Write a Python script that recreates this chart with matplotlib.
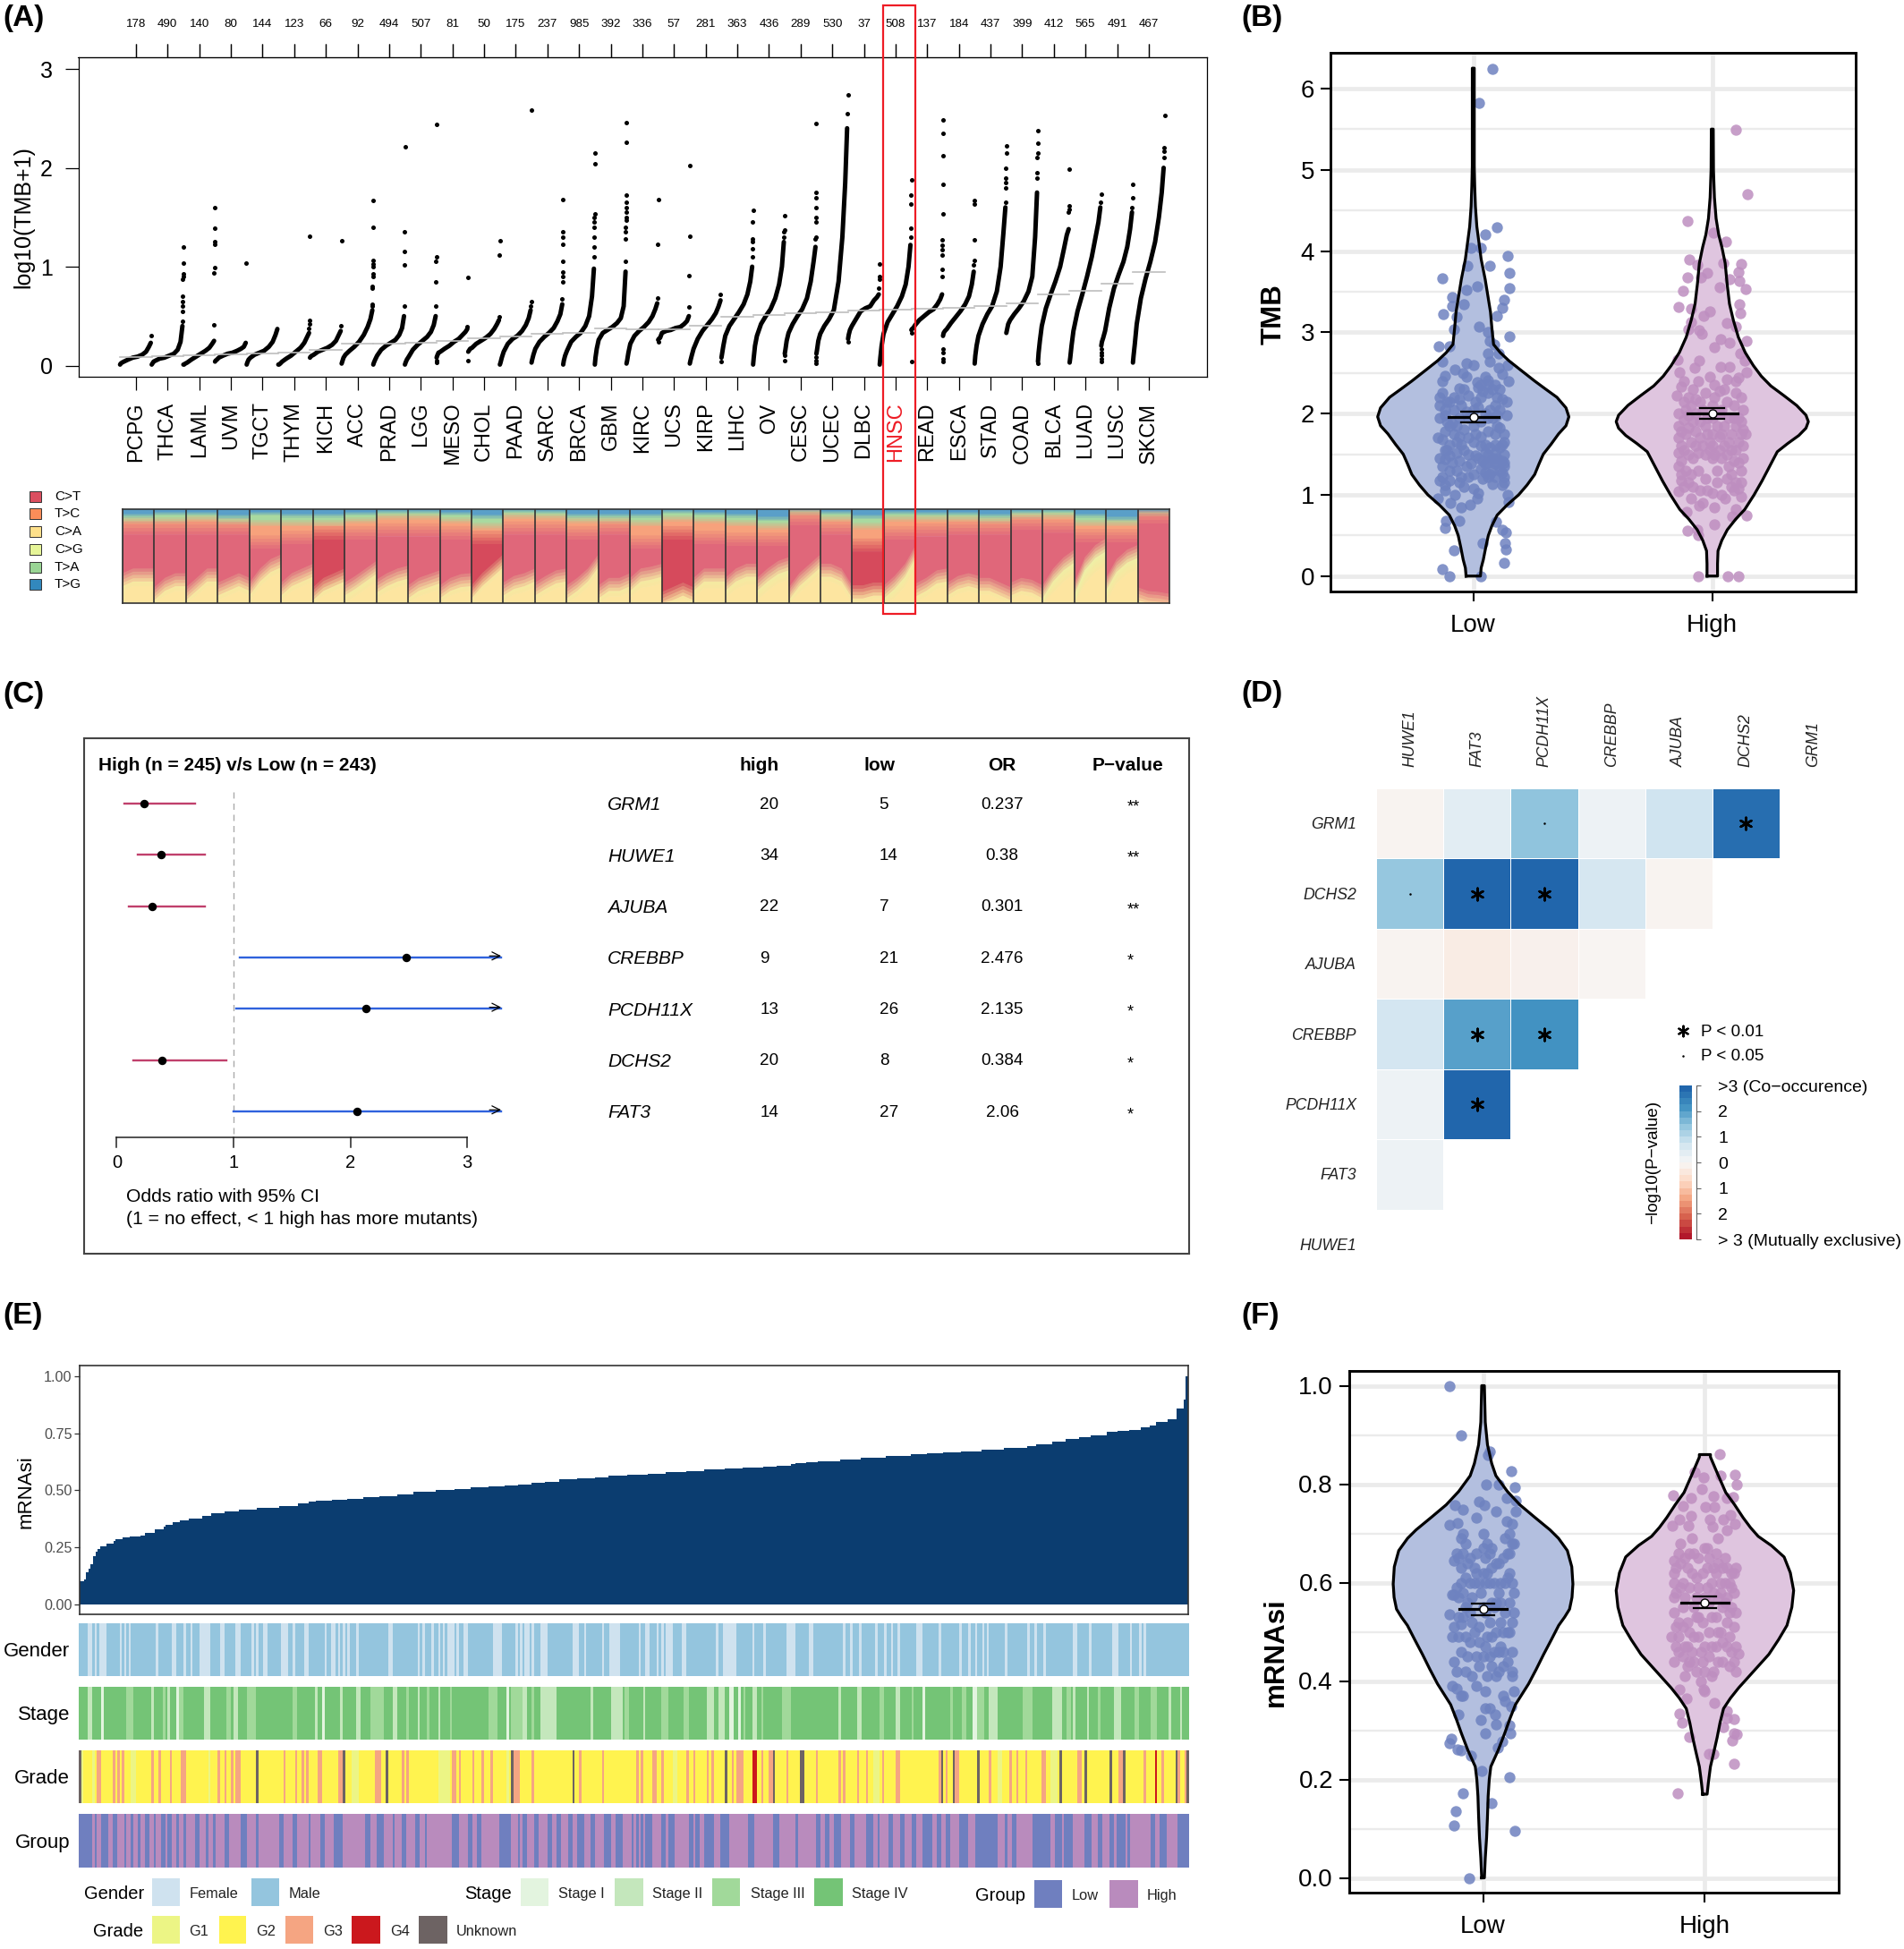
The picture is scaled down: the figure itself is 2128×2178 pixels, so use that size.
import numpy as np
import matplotlib
matplotlib.use("Agg")
import matplotlib.pyplot as plt
from matplotlib.colors import ListedColormap, LinearSegmentedColormap
from matplotlib.patches import Rectangle

plt.rcParams['font.family'] = ['Liberation Sans', 'DejaVu Sans']

W, H = 2128, 2178

# ---- panel A data ----
cancers = ['PCPG','THCA','LAML','UVM','TGCT','THYM','KICH','ACC','PRAD','LGG','MESO','CHOL','PAAD','SARC','BRCA','GBM','KIRC',
           'UCS','KIRP','LIHC','OV','CESC','UCEC','DLBC','HNSC','READ','ESCA','STAD','COAD','BLCA','LUAD','LUSC','SKCM']
cancer_n = [178,490,140,80,144,123,66,92,494,507,81,50,175,237,985,392,336,57,281,363,436,289,530,37,508,137,184,437,399,412,565,491,467]
tmb_median = [.09,.095,.105,.115,.125,.135,.155,.22,.225,.235,.245,.28,.29,.32,.33,.372,.364,.364,.404,.497,.513,.534,.538,.554,.562,.574,.586,.606,.627,.72,.76,.83,.946]
# sorted TMB read at fixed fractions of each cancer's width
tmb_frac = [0,.02,.06,.12,.25,.4,.55,.7,.82,.91,.97]
tmb_curves = [
    [.01,.02,.03,.04,.06,.08,.09,.11,.14,.19,.23],
    [.01,.02,.04,.05,.07,.08,.10,.12,.16,.24,.40],
    [.01,.01,.02,.03,.06,.09,.12,.15,.18,.22,.25],
    [.04,.05,.06,.08,.10,.12,.13,.15,.17,.19,.23],
    [.01,.03,.06,.08,.11,.13,.15,.19,.24,.31,.37],
    [.01,.01,.02,.04,.07,.10,.14,.18,.23,.29,.33],
    [.08,.09,.10,.11,.14,.16,.18,.21,.25,.31,.35],
    [.02,.04,.08,.11,.15,.19,.24,.31,.39,.47,.56],
    [.01,.03,.06,.10,.16,.20,.23,.26,.31,.38,.50],
    [.01,.03,.06,.09,.16,.21,.25,.29,.34,.41,.50],
    [.08,.10,.13,.14,.17,.20,.24,.27,.31,.34,.37],
    [.14,.15,.17,.18,.22,.25,.28,.32,.37,.42,.46],
    [.01,.03,.08,.14,.22,.27,.30,.35,.41,.48,.56],
    [.03,.06,.11,.17,.24,.29,.33,.38,.45,.52,.62],
    [.01,.05,.10,.15,.24,.29,.33,.40,.50,.70,.98],
    [.01,.08,.17,.26,.33,.36,.39,.43,.48,.60,.95],
    [.02,.05,.13,.22,.30,.35,.39,.44,.50,.57,.63],
    [.26,.27,.28,.33,.35,.36,.38,.39,.42,.45,.50],
    [.02,.05,.10,.17,.27,.35,.41,.47,.53,.60,.66],
    [.08,.12,.20,.30,.40,.47,.54,.62,.72,.85,1.0],
    [.01,.08,.20,.30,.42,.50,.57,.68,.82,1.0,1.25],
    [.12,.16,.25,.33,.42,.50,.57,.68,.85,1.05,1.2],
    [.12,.16,.25,.32,.40,.47,.56,.85,1.3,1.85,2.4],
    [.27,.31,.36,.40,.47,.55,.58,.60,.66,.69,.72],
    [.01,.08,.20,.32,.44,.52,.60,.70,.82,1.0,1.22],
    [.36,.37,.38,.41,.46,.50,.54,.57,.62,.67,.72],
    [.30,.33,.35,.37,.43,.49,.55,.62,.70,.82,.95],
    [.02,.10,.20,.30,.42,.52,.60,.75,1.0,1.35,1.6],
    [.33,.36,.42,.46,.52,.58,.65,.75,.90,1.3,1.75],
    [.04,.13,.25,.40,.58,.72,.85,1.0,1.18,1.32,1.38],
    [.03,.08,.20,.35,.55,.72,.90,1.1,1.3,1.45,1.6],
    [.20,.24,.28,.35,.58,.78,.92,1.05,1.2,1.38,1.55],
    [.03,.10,.22,.42,.68,.88,1.05,1.25,1.5,1.75,2.0],
]
tmb_tops = [
    [.30], [.45,.55,.6,.65,.7,.87,.9,.93,1.04,1.2], [.41,.94,.99,1.23,1.25,1.39,1.6], [1.04], [],
    [.38,.42,.46,1.31], [.4,1.26], [.6,.62,.78,.8,.9,.93,1.0,1.03,1.06,1.4,1.67], [.6,1.02,1.15,1.35,2.21],
    [.6,.85,1.05,1.1,2.44], [.39,.89], [.49,1.12,1.26], [.6,.65,2.58], [.67,.85,.9,.95,1.05,1.23,1.3,1.35,1.68],
    [1.1,1.2,1.3,1.4,1.45,1.5,1.53,2.04,2.15], [1.05,1.28,1.35,1.4,1.47,1.5,1.55,1.6,1.65,1.72,2.26,2.46],
    [.68,1.23,1.68], [.59,.91,1.31,2.02], [.72], [1.1,1.18,1.25,1.28,1.45,1.57], [1.3,1.35,1.37,1.52],
    [1.28,1.3,1.45,1.5,1.6,1.7,1.75,2.45], [2.55,2.74], [.78,.87,.9,1.03], [1.3,1.39,1.63,1.72,1.88],
    [.9,.97,1.12,1.17,1.22,1.27,1.53,1.83,2.12,2.35,2.48], [1.02,1.06,1.27,1.63,1.67], [1.65,1.8,1.85,1.9,2.0,2.15,2.22],
    [1.9,1.95,2.1,2.15,2.25,2.38], [1.55,1.58,1.62,1.99], [1.65,1.73], [1.6,1.7,1.83], [2.1,2.17,2.2,2.53],
]
# stray low samples sitting under the start of a curve
tmb_lows = {'MESO':[.03,.05], 'CHOL':[.05], 'LIHC':[.04], 'CESC':[.05,.1], 'UCEC':[.02,.05,.09], 'DLBC':[.24],
            'READ':[.04,.33], 'ESCA':[.04,.07,.13,.17], 'LUSC':[.04,.07,.1,.13,.17], 'UCS':[.24], 'BLCA':[.02]}

# mutation spectrum: top of the yellow part at four positions in each column, then single layer tops
spec_yellow = [[.25,.3,.3,.3],[.1,.2,.25,.25],[.1,.2,.3,.3],[.15,.2,.25,.2],[.15,.3,.4,.45],[.15,.25,.3,.35],[.1,.2,.25,.3],[.15,.22,.3,.38],
               [.18,.25,.3,.33],[.12,.2,.24,.28],[.12,.2,.24,.25],[.12,.25,.35,.45],[.15,.22,.25,.3],[.15,.22,.28,.3],[.12,.2,.3,.45],[.12,.2,.2,.25],
               [.2,.3,.32,.35],[.05,.1,.15,.1],[.2,.3,.3,.3],[.2,.3,.35,.35],[.2,.3,.38,.42],[.1,.25,.35,.45],[.35,.35,.3,.12],[.12,.12,.15,.15],
               [.12,.22,.35,.55],[.14,.2,.28,.3],[.15,.22,.25,.22],[.2,.2,.15,.1],[.15,.2,.18,.12],[.12,.3,.42,.5],[.15,.42,.55,.62],[.2,.4,.5,.55],[.1,.06,.05,.03]]
spec_cg = [.05,.05,.05,.05,.05,.05,.05,.08,.06,.06,.05,.04,.06,.05,.06,.06,.07,.03,.07,.08,.1,.07,.05,.03,.1,.06,.05,.04,.04,.12,.15,.12,.01]
spec_red = [.8,.8,.8,.8,.65,.7,.75,.75,.78,.78,.75,.7,.8,.8,.75,.8,.65,.75,.7,.68,.68,.9,.8,.62,.75,.78,.8,.8,.85,.82,.72,.72,.92]
spec_orange = [.88,.88,.9,.87,.85,.85,.85,.88,.92,.92,.88,.82,.93,.92,.88,.88,.85,.9,.88,.85,.82,.97,.9,.82,.9,.9,.9,.88,.93,.93,.85,.85,.96]
spec_green = [.93,.95,.95,.92,.95,.93,.93,.95,.97,.97,.95,.92,.98,.97,.93,.93,.93,.97,.95,.93,.9,.99,.96,.92,.96,.95,.95,.93,.97,.98,.93,.9,.98]
spec_names = ['C>T','T>C','C>A','C>G','T>A','T>G']
spec_colors = ['#DB4F60','#FC8D59','#FEE08B','#E6F598','#99D594','#3288BD']
spec_deep_red = ['KICH','CHOL','UCS','DLBC']

# ---- panel B data ----
b_low_y = [0,.1,.2,.35,.5,.62,.75,.87,1.0,1.12,1.25,1.38,1.5,1.62,1.75,1.85,1.96,2.07,2.2,2.3,2.4,2.52,2.65,2.75,2.85,3.05,3.25,3.45,3.65,3.9,4.1,4.3,4.55,4.8,5.05,5.8,6.25]
b_low_w = [.03,.033,.042,.052,.063,.078,.10,.14,.19,.225,.257,.275,.293,.325,.357,.388,.40,.388,.35,.303,.257,.205,.149,.113,.085,.078,.072,.061,.05,.033,.024,.015,.009,.006,.004,.004,.004]
b_high_y = [0,.15,.31,.44,.57,.7,.82,1.0,1.17,1.35,1.53,1.63,1.73,1.82,1.9,1.98,2.1,2.22,2.34,2.46,2.59,2.75,2.94,3.15,3.35,3.6,3.85,4.05,4.2,4.4,4.66,5.0,5.5]
b_high_w = [.022,.022,.024,.04,.063,.098,.136,.175,.208,.24,.272,.315,.362,.392,.402,.392,.353,.30,.245,.205,.172,.138,.109,.088,.072,.062,.054,.04,.027,.016,.009,.005,.004]
b_low_pts = [(.08,6.24),(.025,5.82),(.10,4.29),(.05,4.2),(-.01,4.04),(.03,4.04),(.145,3.94),(.15,3.73),(.07,3.82),(-.025,3.82),(-.13,3.66),(.15,3.54),(.016,3.56),(-.03,3.52),
    (-.087,3.43),(.127,3.4),(-.04,3.34),(-.087,3.32),(.12,3.3),(.10,3.2),(-.125,3.22),(-.07,3.19),(.025,3.07),(-.08,3.04),(.06,3.0),(.15,2.95),(.07,2.89),(-.143,2.83),(-.10,2.83),(.087,2.85),
    (.06,2.74),(.105,2.74),(-.13,2.64),(.07,2.64),(-.03,2.62),(0,2.6),(.145,2.6),(-.076,2.54),(.105,2.56),(.12,2.49),(-.12,2.46),(-.043,2.5),(.147,2.4),(-.13,2.4),(.06,2.41),(.015,2.39),(-.06,2.31),
    (.147,.91),(.145,1.0),(-.15,.95),(-.12,1.05),(-.076,1.0),(-.094,.9),(-.05,.85),(-.012,.88),(.015,.95),(-.06,.68),(-.116,.68),(-.12,.59),(.096,.67),(.12,.57),(.138,.54),(.132,.41),(.138,.33),(.04,.4),(-.08,.32),(.127,.16),(-.13,.09),(-.1,0),(.03,0),
    (-.14,1.18),(-.13,1.22),(-.14,1.45),(-.12,1.44),(-.15,1.7),(-.13,1.68),(-.14,1.95),(-.12,1.98),(-.14,2.1),(-.14,2.2),(-.13,2.25),(-.11,2.15),(-.1,1.3),(-.09,1.4),(-.1,1.62),(-.08,1.75),(-.09,1.88),(-.08,2.05),(-.1,2.14),(-.07,1.52),(-.06,1.15),(-.05,1.22),(-.04,1.1),(-.03,1.35),(-.05,1.62),(-.04,1.8),(-.06,1.95),(-.05,2.1),(-.04,2.3),(-.03,2.45),(-.02,1.5),(-.01,1.38),(0,1.25),(0,1.08),(.01,1.75),(0,1.85),(.01,2.15),(.02,2.32),(.03,2.2),(.03,1.9),(.03,1.6),(.04,1.42),(.05,1.28),(.05,1.38),(.06,1.5),(.06,1.78),(.05,2.0),(.06,2.25),(.06,2.37),(.08,1.45),(.08,1.3),(.08,1.13),(.09,1.52),(.09,1.75),(.08,1.95),(.09,2.1),(.1,2.2),(.1,1.4),(.12,1.27),(.13,1.4),(.13,1.15),(.13,1.22),(.13,1.5),(.13,1.65),(.13,1.75),(.14,1.98),(.14,2.15),(.12,2.18),(.11,1.82),(.11,2.3),
    (-.12,1.12),(-.1,1.18),(-.07,1.3),(-.12,1.55),(-.1,1.48),(-.06,1.42),(-.12,1.78),(-.1,1.85),(-.06,1.72),(-.12,2.05),(-.08,2.2),(-.06,2.18),(-.03,2.02),(-.02,1.7),(-.02,1.22),(.01,1.48),(.02,1.02),(.03,1.32),(.03,1.72),(.02,2.08),(.04,1.2),(.05,1.52),(.05,1.62),(.06,1.95),(.06,1.4),(.07,1.25),(.07,1.58),(.07,2.05),(.08,2.3),(.09,1.38),(.09,1.22),(.1,1.45),(.1,1.85),(.11,1.58),(.11,1.3),(.12,1.42),(.12,1.62),(.12,1.12),(.11,2.05),(.1,1.98),(-.11,1.9),(-.11,1.55),(-.07,1.65),(-.07,1.85),(-.02,1.95),(-.02,2.22),(0,2.05),(.04,2.28),(.06,1.22),(.13,1.35),(-.13,1.35),(-.04,1.55),(0,1.65),(.02,1.45),(.09,1.62),(.03,2.35),(.09,2.35),(.05,2.45)]
b_high_pts = [(.098,5.49),(.147,4.7),(-.103,4.37),(.004,4.23),(.058,4.12),(-.096,3.89),(-.063,3.83),(.045,3.85),(.12,3.84),(-.022,3.73),(-.103,3.68),(-.049,3.68),(.109,3.74),(.072,3.65),(.114,3.63),(.03,3.55),(-.121,3.51),(.14,3.53),(-.14,3.31),(-.089,3.29),(.112,3.35),(.116,3.23),(-.009,3.26),(-.038,3.2),(-.089,3.12),(.06,3.11),(.1,3.07),(-.1,3.04),(-.054,3.02),(-.045,2.98),(.145,2.89),(.036,2.92),(.072,2.87),(.009,2.82),(.118,2.74),(-.145,2.66),(-.054,2.65),(.136,2.65),(.145,2.51),(-.136,2.51),(-.072,2.56),(.036,2.57),(.072,2.57),(.109,2.44),(-.009,2.45),
    (.145,.75),(.085,.74),(.1,.82),(.009,.84),(-.054,.87),(-.109,.79),(.009,.64),(-.103,.56),(-.063,.57),(-.06,.5),(.054,.96),(-.06,0),(.063,0),(.11,0),
    (-.14,1.04),(-.13,1.17),(-.12,1.1),(-.14,1.35),(-.14,1.52),(-.14,1.7),(-.14,1.85),(-.14,2.0),(-.15,2.22),(-.13,2.33),(-.12,2.4),(-.11,2.05),(-.11,1.75),(-.12,1.55),(-.11,1.3),(-.09,.95),(-.08,1.1),(-.09,1.25),(-.08,1.45),(-.09,1.65),(-.08,1.9),(-.09,2.1),(-.08,2.3),(-.06,2.4),(-.06,1.52),(-.05,1.7),(-.06,1.3),(-.05,1.05),(-.04,.9),(-.03,1.2),(-.03,1.5),(-.03,1.85),(-.04,2.05),(-.03,2.25),(-.01,1.55),(0,1.45),(-.01,1.65),(0,1.95),(.01,2.2),(.01,2.35),(.02,1.3),(.02,1.15),(.03,1.55),(.04,1.45),(.04,1.75),(.04,2.05),(.05,2.3),(.06,1.5),(.06,1.2),(.07,1.35),(.08,1.1),(.08,1.25),(.08,1.55),(.08,1.75),(.09,1.95),(.09,2.1),(.1,2.25),(.1,2.4),(.11,1.4),(.12,1.15),(.12,1.3),(.13,1.45),(.13,1.6),(.13,1.8),(.14,1.75),(.12,1.9),(.13,2.05),(.12,.98),(.11,1.08),
    (-.13,1.6),(-.13,1.78),(-.12,1.92),(-.12,2.15),(-.13,1.42),(-.1,1.5),(-.1,1.82),(-.1,1.98),(-.1,2.2),(-.07,1.6),(-.07,1.78),(-.07,2.0),(-.07,2.18),(-.05,1.9),(-.05,2.15),(-.04,1.6),(-.02,1.75),(-.02,1.95),(0,1.75),(0,1.6),(0,2.1),(.01,1.5),(.02,1.85),(.03,2.0),(.03,1.72),(.05,1.6),(.05,1.85),(.06,2.15),(.07,1.95),(.07,1.65),(.09,1.42),(.1,1.55),(.1,1.85),(.11,1.65),(.12,1.75),(.12,2.2),(.11,1.95),(.1,1.15),(.09,1.05),(.04,1.0),(0,1.02),(-.02,1.05),(-.1,1.15),(-.13,1.25),(.06,2.42),(.03,2.28)]

# ---- panel C data ----
forest_genes = ['GRM1','HUWE1','AJUBA','CREBBP','PCDH11X','DCHS2','FAT3']
forest_high = [20,34,22,9,13,20,14]
forest_low = [5,14,7,21,26,8,27]
forest_or = [0.237,0.38,0.301,2.476,2.135,0.384,2.06]
forest_ci_lo = [.068,.18,.10,1.056,1.025,.14,1.0]
forest_ci_hi = [.67,.758,.755,3.29,3.29,.936,3.29]
forest_p = ['**','**','**','*','*','*','*']

# ---- panel D data ----
d_cols = ['HUWE1','FAT3','PCDH11X','CREBBP','AJUBA','DCHS2','GRM1']
d_rows = ['GRM1','DCHS2','AJUBA','CREBBP','PCDH11X','FAT3','HUWE1']
nan = np.nan
d_vals = [[-.1,.4,1.5,.2,.75,2.85,nan],
          [1.45,3.0,3.0,.65,-.1,nan,nan],
          [-.1,-.3,-.17,-.08,nan,nan,nan],
          [.7,2.05,2.25,nan,nan,nan,nan],
          [.2,3.0,nan,nan,nan,nan,nan],
          [.2,nan,nan,nan,nan,nan,nan],
          [nan,nan,nan,nan,nan,nan,nan]]
d_star = [(0,5),(1,1),(1,2),(3,1),(3,2),(4,1)]
d_dot = [(0,2),(1,0)]

# ---- panel E data ----
# rank of the first sample at each reading, and the mRNAsi read there
e_rank = [0,2,3,4,5,6,7,8,9,12,15,16,19,22,27,29,33,37,38,41,44,48,54,58,64,70,78,88,96,101,
          104,111,118,125,132,140,147,157,165,172,180,187,193,199,205,211,219,227,233,241,
          250,258,267,275,284,292,301,307,313,315,320,325,335,344,355,366,373,380,388,397,
          407,417,421,428,434,440,445,452,457,462,467,471,474,479,483,486,487]
e_value = [.10,.11,.14,.157,.175,.21,.23,.243,.255,.266,.279,.285,.292,.297,.299,.314,.33,.34,.35,.358,.369,.376,.387,.40,.408,.416,.423,.429,.442,.449,
           .456,.459,.463,.468,.474,.483,.493,.502,.507,.513,.517,.522,.526,.531,.538,.547,.553,.558,.564,.568,
           .573,.579,.585,.590,.595,.599,.603,.608,.614,.62,.625,.629,.636,.644,.652,.659,.663,.666,.672,.678,
           .686,.693,.703,.715,.725,.734,.742,.756,.76,.766,.775,.783,.80,.81,.861,.90,1.0]
n_samples = 488
female_runs = [(4,6),(7,8),(9,12),(18,19),(20,21),(22,23),(34,35),(41,43),(46,46),(49,49),(53,57),(57,58),(62,64),(69,71),(76,77),(78,79),(81,83),(89,92),(94,95),(99,101),(108,108),(111,113),(114,115),(116,117),(118,119),(122,122),(136,138),(149,150),(151,152),(155,156),(158,158),(160,160),(162,165),(166,167),(169,171),(182,186),(192,192),(194,195),(196,198),(199,200),(203,206),(217,220),(222,223),(230,231),(233,238),
               (246,247),(249,251),(254,255),(256,256),(258,258),(259,261),(265,267),(280,281),(283,289),(296,296),(301,302),(311,315),(321,323),(336,336),(339,340),(343,344),(350,351),(354,355),(357,357),(360,361),(368,371),(378,379),(387,388),(391,392),(394,395),(397,397),(399,400),(407,407),(417,418),(420,421),(424,425),(437,439),(444,445),(454,457),(462,463),(466,466),(468,469)]
stage_runs = [(4,6,1),(10,11,0),(21,24,2),(32,33,1),(37,38,2),(39,39,1),(43,43,0),(44,46,2),(55,58,1),(65,67,2),(68,70,1),(74,78,2),(94,96,2),(104,105,1),(107,108,0),(115,116,1),(122,124,1),(128,134,2),(138,140,1),(144,145,2),(149,150,1),(153,154,2),(158,158,1),(163,164,2),(180,184,2),(188,189,0),(190,195,2),(195,197,1),(199,200,2),(203,210,1),(225,226,1),(234,239,1),
              (240,242,2),(248,249,1),(256,259,2),(266,268,2),(276,279,1),(281,284,1),(286,288,0),(290,291,0),(292,293,2),(296,298,1),(300,301,2),(309,313,2),(334,335,1),(342,344,1),(352,354,2),(359,361,1),(366,367,2),(371,372,0),(383,384,2),(388,390,2),(393,395,0),(395,398,2),(400,404,1),(415,419,2),(428,432,1),(434,436,2),(437,438,1),(443,444,1),(448,449,2),(455,458,1),(464,466,2),(471,474,2),(479,480,1),(484,485,1)]
g3_runs = [(8,10),(15,16),(17,18),(19,20),(32,33),(35,36),(40,41),(45,47),(61,62),(64,65),(67,67),(69,71),(90,91),(95,96),(98,99),(100,101),(105,107),(114,116),(120,120),(130,133),(142,143),(144,145),(164,166),(167,168),(173,174),(177,178),(181,182),(191,194),(199,200),(220,221),(230,231),
           (245,246),(247,248),(252,254),(256,257),(267,267),(270,271),(276,276),(278,278),(287,288),(289,292),(300,300),(303,305),(311,311),(324,325),(334,334),(336,337),(342,343),(346,347),(353,354),(359,361),(378,379),(381,382),(385,387),(400,401),(409,410),(412,413),(416,417),(423,425),(439,441),(457,459),(468,469),(476,477),(483,484),(486,487)]
g1_runs = [(1,2),(6,7),(23,25),(57,58),(120,123),(158,163),(188,189),(261,263),(349,352),(404,406),(427,430)]
g4_runs = [(296,298),(473,474)]
unknown_runs = [(0,1),(78,79),(116,117),(135,136),(190,191),(217,218),(284,285),(305,306),(317,319),(379,380),(384,385),(395,396),(431,432),(442,443),(453,454),(459,460),(482,483),(487,488)]
low_runs = [(0,6),(7,8),(10,13),(15,17),(20,21),(23,24),(26,27),(29,31),(33,34),(36,38),(39,41),(43,44),(46,47),(51,53),(56,57),(59,60),(64,66),(71,74),(78,79),(88,90),(94,96),(101,102),(106,108),(112,116),(126,128),(131,134),(138,139),(142,144),(148,150),(152,153),(164,167),(171,173),(175,177),(185,190),(193,194),(195,197),(200,202),(206,208),(210,212),(215,217),(219,222),(225,227),(231,234),
            (236,239),(243,244),(245,246),(247,248),(249,252),(256,258),(259,262),(268,270),(271,273),(275,279),(282,286),(294,297),(305,308),(315,316),(324,326),(328,330),(332,335),(339,341),(346,349),(351,352),(356,358),(361,363),(366,368),(371,375),(377,379),(381,383),(387,391),(394,404),(407,408),(410,412),(419,427),(429,432),(433,437),(442,445),(448,450),(453,455),(456,460),(461,462),(471,473),(475,478),(483,488)]

# ---- panel F data ----
f_low_y = [0,.04,.082,.125,.166,.2,.226,.259,.293,.322,.352,.394,.424,.454,.484,.513,.53,.546,.57,.597,.632,.665,.69,.707,.733,.758,.785,.817,.842,.88,.926,1.0]
f_low_w = [.006,.01,.016,.02,.023,.028,.035,.068,.097,.12,.146,.205,.24,.273,.308,.341,.368,.39,.401,.405,.40,.38,.34,.302,.232,.166,.11,.058,.039,.02,.01,.006]
f_high_y = [.17,.195,.226,.255,.285,.315,.344,.365,.386,.42,.454,.484,.513,.55,.584,.62,.652,.675,.694,.712,.732,.758,.783,.82,.855,.86]
f_high_w = [.01,.016,.025,.04,.055,.068,.084,.115,.152,.22,.288,.332,.37,.392,.40,.385,.357,.30,.24,.205,.172,.134,.094,.058,.025,.025]
f_low_pts = [(-.15,1.0),(-.10,.9),(.03,.866),(.023,.86),(.127,.827),(.014,.80),(.07,.80),(.142,.794),(.107,.772),(.146,.766),(-.02,.764),(.006,.757),(-.127,.757),(-.09,.749),(.058,.745),(.146,.745),(-.03,.732),(-.15,.718),(-.117,.721),(.107,.724),
    (-.113,.331),(.01,.344),(.03,.344),(-.01,.321),(.053,.331),(.117,.31),(.058,.312),(.127,.348),(.01,.293),(.123,.293),(.088,.278),(-.15,.274),(-.142,.283),(-.117,.261),(-.097,.259),(.068,.264),(-.053,.249),(-.006,.217),(.119,.204),(-.092,.171),(.037,.151),(-.123,.135),(-.13,.106),(.144,.096),(-.064,0),
    (-.14,.575),(-.15,.535),(-.13,.51),(-.14,.49),(-.13,.44),(-.12,.42),(-.14,.39),(-.12,.385),(-.10,.37),(-.09,.37),(-.13,.645),(-.12,.66),(-.12,.59),(-.11,.57),(-.1,.63),(-.1,.69),(-.09,.7),(-.08,.68),(-.07,.64),(-.06,.6),(-.08,.55),(-.09,.53),(-.08,.49),(-.07,.45),(-.06,.48),(-.05,.52),(-.05,.57),(-.03,.45),(-.05,.41),(-.03,.39),(-.02,.51),(-.02,.48),(-.01,.58),(0,.7),(0,.67),(.01,.65),(.02,.62),(.03,.66),(.01,.54),(.02,.49),(.03,.45),(.02,.41),(.01,.38),(.04,.67),(.05,.6),(.05,.55),(.05,.46),(.06,.41),(.07,.64),(.07,.58),(.08,.52),(.08,.47),(.09,.43),(.09,.37),(.1,.36),(.1,.69),(.11,.66),(.11,.61),(.12,.56),(.12,.5),(.13,.46),(.13,.42),(.13,.41),(.14,.58),(.14,.54),(.14,.38),(.14,.68),(.13,.72),(-.03,.62),(.06,.5),(-.1,.46),
    (-.13,.575),(-.11,.53),(-.11,.49),(-.1,.6),(-.1,.515),(-.09,.66),(-.09,.58),(-.08,.61),(-.07,.56),(-.06,.65),(-.06,.54),(-.04,.63),(-.04,.6),(-.04,.5),(-.03,.66),(-.02,.6),(-.02,.43),(0,.62),(0,.55),(0,.45),(.01,.6),(.01,.47),(.02,.68),(.03,.6),(.03,.52),(.04,.63),(.04,.56),(.04,.49),(.04,.43),(.06,.64),(.06,.56),(.07,.46),(.07,.42),(.08,.6),(.08,.56),(.09,.65),(.09,.5),(.09,.46),(.1,.6),(.1,.54),(.11,.5),(.11,.44),(.12,.66),(.12,.62),(.13,.6),(.13,.52),(.13,.68),(.12,.7),(-.11,.65),(-.08,.42)]
f_high_pts = [(.066,.861),(-.045,.825),(.136,.819),(.072,.817),(-.006,.814),(.142,.80),(-.016,.79),(-.142,.777),(-.064,.772),(.039,.776),(.10,.772),(.127,.774),(-.097,.756),(.043,.753),(.004,.753),(.117,.738),(-.064,.735),(-.113,.728),(.023,.728),(.082,.728),(.136,.72),(-.148,.715),(-.074,.715),(.033,.714),(.10,.707),
    (-.113,.382),(-.084,.365),(-.006,.382),(.043,.356),(.097,.34),(-.113,.333),(-.103,.315),(.10,.325),(.13,.323),(.082,.306),(.13,.293),(.144,.291),(-.07,.287),(.125,.28),(.02,.251),(.037,.251),(.133,.232),(-.123,.171),
    (-.14,.645),(-.14,.62),(-.14,.6),(-.14,.57),(-.14,.54),(-.15,.49),(-.14,.44),(-.13,.47),(-.13,.51),(-.12,.66),(-.11,.68),(-.11,.59),(-.1,.55),(-.1,.45),(-.09,.41),(-.08,.43),(-.08,.63),(-.07,.59),(-.07,.5),(-.06,.46),(-.06,.69),(-.05,.66),(-.04,.61),(-.04,.57),(-.04,.53),(-.03,.49),(-.04,.42),(-.02,.4),(-.01,.44),(0,.38),(0,.67),(.01,.63),(.01,.59),(.02,.56),(.02,.5),(.02,.45),(.03,.41),(.04,.42),(.05,.66),(.05,.62),(.05,.53),(.05,.47),(.06,.69),(.07,.58),(.07,.5),(.08,.44),(.08,.63),(.09,.65),(.09,.56),(.1,.52),(.1,.47),(.11,.6),(.11,.43),(.12,.62),(.12,.55),(.13,.58),(.13,.51),(.14,.63),(.14,.54),(.14,.47),(.15,.455),(.14,.42),(.13,.44),
    (-.13,.63),(-.13,.58),(-.12,.52),(-.12,.49),(-.12,.46),(-.11,.64),(-.1,.6),(-.1,.51),(-.09,.65),(-.09,.57),(-.09,.47),(-.08,.52),(-.08,.47),(-.07,.66),(-.07,.44),(-.06,.62),(-.05,.55),(-.05,.49),(-.05,.44),(-.03,.65),(-.03,.59),(-.03,.53),(-.02,.46),(-.01,.62),(-.01,.52),(0,.57),(0,.47),(0,.42),(.01,.67),(.02,.65),(.03,.6),(.03,.53),(.03,.47),(.04,.63),(.04,.58),(.06,.64),(.06,.57),(.06,.5),(.06,.44),(.07,.6),(.08,.55),(.08,.48),(.09,.6),(.1,.63),(.1,.57),(.11,.54),(.11,.49),(.12,.59),(.12,.46),(.13,.62)]


fig = plt.figure(figsize=(W / 100, H / 100), dpi=100, facecolor='white')


# axes and text placed in picture pixels
def px_axes(left, top, right, bottom):
    return fig.add_axes([left / W, 1 - bottom / H, (right - left) / W, (bottom - top) / H])


def px_text(x, y, s, **kw):
    kw.setdefault('va', 'center')
    return fig.text(x / W, 1 - (y + 2) / H, s, **kw)


def px_rect(left, top, right, bottom, **kw):
    fig.add_artist(Rectangle((left / W, 1 - bottom / H), (right - left) / W, (bottom - top) / H,
                             transform=fig.transFigure, **kw))


for label, x, y in [('(A)', 3, 19), ('(B)', 1387, 19), ('(C)', 3, 774), ('(D)', 1387, 773), ('(E)', 3, 1469), ('(F)', 1387, 1469)]:
    px_text(x, y, label, fontsize=24, fontweight='bold')

# ---- panel A ----
ax = px_axes(87.5, 64, 1349, 421)
for i, name in enumerate(cancers):
    pos = i + 1
    xs = pos - .5 + np.array(tmb_frac)
    ax.plot(xs, tmb_curves[i], color='black', lw=3.6, solid_capstyle='round', solid_joinstyle='round', zorder=3)
    tops = tmb_tops[i]
    if tops:
        ax.plot(pos + .5 - np.linspace(.03, 0, len(tops)), tops, 'o', color='black', ms=3.6, mew=0, zorder=3)
    if name in tmb_lows:
        ax.plot([pos - .5] * len(tmb_lows[name]), tmb_lows[name], 'o', color='black', ms=3.6, mew=0, zorder=3)
    ax.plot([pos - .5, pos + .5], [tmb_median[i], tmb_median[i]], color='#BDBDBD', lw=1.2, zorder=4)
ax.set_xlim(-.82, 34.84)
ax.set_ylim(-.113, 3.118)
ax.set_yticks([0, 1, 2, 3])
ax.tick_params(axis='y', length=10.5, width=.9, labelsize=18, pad=10)
ax.set_xticks(range(1, 34))
ax.set_xticklabels(cancers, rotation=90, fontsize=17, va='top', ha='center')
ax.tick_params(axis='x', length=10.5, width=.9, pad=10, top=True)
for lab, name in zip(ax.get_xticklabels(), cancers):
    if name == 'HNSC':
        lab.set_color('#EE1C25')
for s in ax.spines.values():
    s.set_linewidth(.9)
sec = ax.secondary_xaxis('top')
sec.set_xticks(range(1, 34))
sec.set_xticklabels(cancer_n, fontsize=9.6)
sec.tick_params(length=10.5, width=.9, pad=12)
px_text(26, 241, 'log10(TMB+1)', rotation=90, fontsize=18, ha='center')

# mutation spectrum strip, each column drawn a few times with shifted edges so the layers blend
ax = px_axes(137, 569, 1307, 674)
edge_shifts = [-.07, .07, -.035, .035, 0]
for i, name in enumerate(cancers):
    xs = i + np.array([0, 1 / 3, 2 / 3, 1])
    red_color = '#D64A5C' if name in spec_deep_red else '#E0677A'
    for n, shift in enumerate(edge_shifts):
        y = np.clip(np.array(spec_yellow[i]) + shift, 0, 1)
        ca = np.clip(y - spec_cg[i], 0, 1)
        red_top = np.full(4, spec_red[i] + shift)
        orange_top = np.full(4, spec_orange[i] + shift * .5)
        green_top = np.full(4, min(spec_green[i] + shift * .3, 1))
        ax.stackplot(xs, ca, y - ca, red_top - y, orange_top - red_top, green_top - orange_top, 1 - green_top,
                     colors=['#FDE5A0', '#EEF3A8', red_color, '#F7A27C', '#A9D9A0', '#5A9FC8'], lw=0, alpha=1 / (n + 1))
    ax.axvline(i, color='#333333', lw=1.2)
ax.set_xlim(0, 33)
ax.set_ylim(0, 1)
ax.set_xticks([])
ax.set_yticks([])
for s in ax.spines.values():
    s.set_linewidth(1.2)
    s.set_color('#333333')
for name, color, y in zip(spec_names, spec_colors, [555, 574.5, 594, 614, 633.5, 653]):
    px_rect(33, y - 6, 46, y + 6, facecolor=color, edgecolor='#333333', lw=.7)
    px_text(61, y - 2, name, fontsize=11)
px_rect(987, 6, 1023, 686, facecolor='none', edgecolor='#EE1C25', lw=1.6, zorder=10)


# ---- panels B and F share one violin drawing ----
def draw_violin(ax, center, ys, widths, pts, fill, dot, mean, ci, cap_w, line_w):
    ys = np.array(ys)
    widths = np.array(widths)
    ax.fill_betweenx(ys, center - widths, center + widths, color=fill, lw=0, zorder=2)
    ax.plot(np.r_[center - widths, (center + widths)[::-1], center - widths[0]], np.r_[ys, ys[::-1], ys[0]],
            color='black', lw=2.3, solid_joinstyle='round', zorder=4)
    pts = np.array(pts)
    ax.scatter(center + pts[:, 0], pts[:, 1], s=80, color=dot, alpha=.85, lw=0, zorder=3)
    ax.plot([center - line_w, center + line_w], [mean, mean], color='black', lw=2.3, zorder=5)
    ax.plot([center - cap_w, center + cap_w], [mean - ci, mean - ci], color='black', lw=1.6, zorder=5)
    ax.plot([center - cap_w, center + cap_w], [mean + ci, mean + ci], color='black', lw=1.6, zorder=5)
    ax.plot([center], [mean], 'o', ms=6.5, mfc='white', mec='black', mew=1, zorder=6)


def style_violin(ax, ylabel, ymajor, yminor, label_xy):
    ax.set_xticks([1, 2])
    ax.set_xticklabels(['Low', 'High'])
    ax.set_yticks(ymajor)
    ax.set_yticks(yminor, minor=True)
    ax.tick_params(axis='both', which='major', length=8, width=1.5, labelsize=20, pad=5)
    ax.tick_params(axis='x', which='major', pad=10)
    ax.tick_params(axis='both', which='minor', length=0)
    ax.grid(True, which='major', color='#EBEBEB', lw=3.4)
    ax.grid(True, which='minor', axis='y', color='#EBEBEB', lw=1.7)
    ax.set_axisbelow(True)
    for s in ax.spines.values():
        s.set_linewidth(2.1)
    px_text(label_xy[0], label_xy[1], ylabel, rotation=90, fontsize=22.5, fontweight='bold', ha='center')


ax = px_axes(1487, 59.2, 2074, 661)
draw_violin(ax, 1, b_low_y, b_low_w, b_low_pts, '#B3BFDF', '#6E82C0', 1.96, .065, .05, .105)
draw_violin(ax, 2, b_high_y, b_high_w, b_high_pts, '#DFC5DF', '#BE8EC0', 2.0, .063, .05, .105)
ax.set_xlim(.4026, 2.60)
ax.set_ylim(-.19, 6.437)
style_violin(ax, 'TMB', range(7), np.arange(.5, 6, 1), (1424, 349))

ax = px_axes(1508, 1532, 2055, 2115)
draw_violin(ax, 1, f_low_y, f_low_w, f_low_pts, '#B3BFDF', '#6E82C0', .546, .012, .05, .107)
draw_violin(ax, 2, f_high_y, f_high_w, f_high_pts, '#DFC5DF', '#BE8EC0', .56, .011, .05, .107)
ax.set_xlim(.397, 2.603)
ax.set_ylim(-.03, 1.03)
style_violin(ax, 'mRNAsi', [0, .2, .4, .6, .8, 1.0], [.1, .3, .5, .7, .9], (1426, 1844))
ax.set_yticklabels(['0.0', '0.2', '0.4', '0.6', '0.8', '1.0'])

# ---- panel C ----
ax = px_axes(93.5, 824.5, 1328.6, 1401.4)
ax.set_xlim(-.283, 9.174)
ax.set_ylim(8.78, -1.282)
ax.set_xticks([])
ax.set_yticks([])
for s in ax.spines.values():
    s.set_linewidth(1.5)
    s.set_color('#444444')
ax.plot([1, 1], [-.23, 6.5], color='#AAAAAA', lw=1, ls=(0, (5, 4)))
for i, gene in enumerate(forest_genes):
    up = forest_or[i] > 1
    ax.plot([forest_ci_lo[i], forest_ci_hi[i]], [i, i], color='#2F62DD' if up else '#C0406C', lw=1.7, zorder=3)
    if up:
        ax.annotate('', xy=(forest_ci_hi[i], i - .03), xytext=(forest_ci_hi[i] - .1, i - .03),
                    arrowprops=dict(arrowstyle='->', color='black', lw=.9, mutation_scale=16, shrinkA=0, shrinkB=0))
    ax.plot([forest_or[i]], [i], 'o', color='black', ms=5.8, zorder=4)
    ax.text(4.2, i + .03, gene, fontsize=15, style='italic', va='center')
    ax.text(5.505, i + .02, forest_high[i], fontsize=13.6, va='center')
    ax.text(6.525, i + .02, forest_low[i], fontsize=13.6, va='center')
    ax.text(7.577, i + .02, forest_or[i], fontsize=13.6, va='center', ha='center')
    ax.text(8.65, i + .07, forest_p[i], fontsize=13, va='center')
ax.plot([0, 3], [6.5, 6.5], color='#222222', lw=1.1)
for t in range(4):
    ax.plot([t, t], [6.5, 6.69], color='#222222', lw=1.1)
    ax.text(t, 7.01, t, fontsize=14.5, ha='center', va='center')
ax.text(.08, 7.67, 'Odds ratio with 95% CI', fontsize=15.2, va='center')
ax.text(.08, 8.1, '(1 = no effect, < 1 high has more mutants)', fontsize=15.2, va='center')
ax.text(-.157, -.74, 'High (n = 245) v/s Low (n = 243)', fontsize=15, fontweight='bold', va='center')
for x, title in zip([5.5, 6.525, 7.577, 8.65], ['high', 'low', 'OR', 'P\u2212value']):
    ax.text(x, -.74, title, fontsize=15, fontweight='bold', va='center', ha='center')

# ---- panel D ----
rdbu = LinearSegmentedColormap.from_list('rdbu9', ['#B2182B', '#D6604D', '#F4A582', '#FDDBC7', '#F7F7F7',
                                                   '#D1E5F0', '#92C5DE', '#4393C3', '#2166AC'])
ax = px_axes(1538.2, 881, 2064, 1430)
ax.pcolormesh(np.ma.masked_invalid(d_vals), cmap=rdbu, vmin=-3, vmax=3, edgecolors='white', lw=.6)
ax.set_xlim(0, 7)
ax.set_ylim(7, 0)
ax.axis('off')
for r, c in d_star:
    ax.scatter(c + .5, r + .5, marker=(6, 2, 0), s=95, color='black', lw=1.8, zorder=5)
for r, c in d_dot:
    ax.plot(c + .5, r + .5, 'o', color='black', ms=1.8, mew=0, zorder=5)
for i, gene in enumerate(d_rows):
    ax.text(-.296, i + .52, gene, fontsize=12.7, style='italic', ha='right', va='center', color='#222222', clip_on=False)
for i, gene in enumerate(d_cols):
    ax.text(i + .5, -.3, gene, fontsize=12.7, style='italic', rotation=90, ha='center', va='bottom', color='#222222', clip_on=False)
ax.scatter(4.56, 3.45, marker=(6, 2, 0), s=70, color='black', lw=1.6, clip_on=False, zorder=5)
ax.plot(4.56, 3.81, 'o', color='black', ms=1.8, mew=0, clip_on=False)
px_text(1900.7, 1151, 'P < 0.01', fontsize=13.6)
px_text(1900.7, 1178.5, 'P < 0.05', fontsize=13.6)
cax = px_axes(1876.5, 1213, 1890.5, 1385)
cax.imshow(np.linspace(3, -3, 24)[:, None], cmap=rdbu, vmin=-3, vmax=3, aspect='auto', extent=[0, 1, -3, 3])
cax.set_xticks([])
cax.yaxis.tick_right()
cax.set_yticks([3, 2, 1, 0, -1, -2, -3])
cax.set_yticklabels(['>3 (Co\u2212occurence)', '2', '1', '0', '1', '2', '> 3 (Mutually exclusive)'])
cax.tick_params(axis='y', length=3.5, width=.7, color='#555555', pad=14, labelsize=14)
for side in ['left', 'top', 'bottom']:
    cax.spines[side].set_visible(False)
cax.spines['right'].set_position(('outward', 4))
cax.spines['right'].set_linewidth(.7)
cax.spines['right'].set_color('#555555')
px_text(1847.5, 1296.6, '\u2212log10(P\u2212value)', rotation=90, fontsize=13.6, ha='center')

# ---- panel E ----
ax = px_axes(88.8, 1525.7, 1328, 1804)
widths = np.diff(e_rank + [n_samples])
ax.bar(e_rank, e_value, width=widths, align='edge', color='#0B3D70', lw=0)
ax.set_xlim(0, n_samples)
ax.set_ylim(-.045, 1.049)
ax.set_xticks([])
ax.set_yticks([0, .25, .5, .75, 1.0])
ax.set_yticklabels(['0.00', '0.25', '0.50', '0.75', '1.00'], fontsize=11.6, color='#4D4D4D')
ax.tick_params(axis='y', length=4, width=.9, color='#333333', pad=2)
for s in ax.spines.values():
    s.set_linewidth(1.2)
    s.set_color('#333333')
px_text(29, 1665, 'mRNAsi', rotation=90, fontsize=16, ha='center')


# run ends are exclusive, a run with start == end still marks one sample
def strip_codes(base, *run_sets):
    codes = np.full(n_samples, base)
    for code, runs in run_sets:
        for start, end in runs:
            codes[start:max(end, start + 1)] = code
    return codes


stage_codes = np.full(n_samples, 3)
for start, end, level in stage_runs:
    stage_codes[start:max(end, start + 1)] = level
gender_colors = ['#CFE2EF', '#94C5DE']
stage_colors = ['#E3F4DF', '#C4E7BC', '#A1D99A', '#74C476']
grade_colors = ['#ECF585', '#FFF34F', '#F5A582', '#CB181D', '#6D6363']
group_colors = ['#6F7FBF', '#B98BBD']
strips = [('Gender', strip_codes(1, (0, female_runs)), gender_colors, 1813.5, 1873.4),
          ('Stage', stage_codes, stage_colors, 1885, 1944.4),
          ('Grade', strip_codes(1, (2, g3_runs), (0, g1_runs), (3, g4_runs), (4, unknown_runs)), grade_colors, 1956, 2015.5),
          ('Group', strip_codes(1, (0, low_runs)), group_colors, 2027, 2087)]
for name, codes, colors, top, bottom in strips:
    ax = px_axes(88.4, top, 1329, bottom)
    ax.imshow(codes[None, :], cmap=ListedColormap(colors), vmin=-.5, vmax=len(colors) - .5, aspect='auto', interpolation='nearest')
    ax.axis('off')
    px_text(78, (top + bottom) / 2, name, fontsize=16, ha='right')


# legend rows under the strips
def swatch(left, right, top, bottom, color, label, text_x):
    px_rect(left, top, right, bottom, facecolor=color, edgecolor='none')
    px_text(text_x, (top + bottom) / 2, label, fontsize=11.8, color='#222222')


px_text(93.75, 2114, 'Gender', fontsize=14.5)
swatch(170, 201, 2098.6, 2129.7, gender_colors[0], 'Female', 212)
swatch(281, 312, 2098.6, 2129.7, gender_colors[1], 'Male', 323)
px_text(519, 2115, 'Stage', fontsize=14.5)
for (left, right, tx), c, lab in zip([(582, 613, 624), (686.5, 718.6, 729), (796, 827.4, 839), (910, 941.5, 952)], stage_colors,
                                     ['Stage I', 'Stage II', 'Stage III', 'Stage IV']):
    swatch(left, right, 2099, 2130, c, lab, tx)
px_text(1090, 2116.5, 'Group', fontsize=14.5)
swatch(1155.7, 1187, 2100.5, 2131.6, group_colors[0], 'Low', 1198)
swatch(1240, 1271.5, 2100.5, 2131.6, group_colors[1], 'High', 1282)
px_text(104, 2156.6, 'Grade', fontsize=14.5)
for (left, right, tx), c, lab in zip([(169.6, 201, 211.6), (244.6, 275.4, 286.6), (319, 350, 361), (393, 425, 435.7), (468, 499.6, 510)],
                                     grade_colors, ['G1', 'G2', 'G3', 'G4', 'Unknown']):
    swatch(left, right, 2140.8, 2172.4, c, lab, tx)

plt.savefig('out.png', dpi=100)
